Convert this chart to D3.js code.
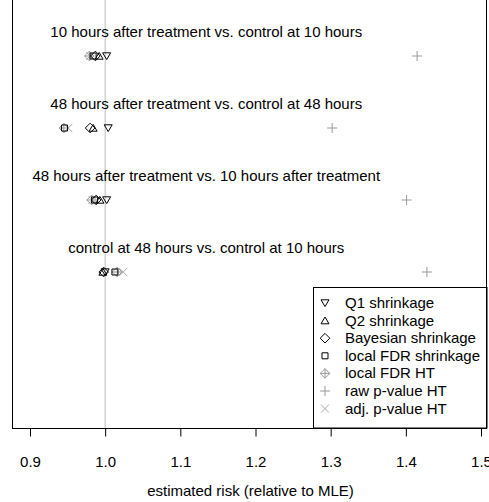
<!DOCTYPE html>
<html><head><meta charset="utf-8">
<script src="https://cdn.jsdelivr.net/npm/d3@7"></script>
<style>body{margin:0;background:#fff;}svg{display:block;font-family:"Liberation Sans",Arial,sans-serif;}</style>
</head><body>
<script>
const comparisons = [
  "10 hours after treatment vs. control at 10 hours",
  "48 hours after treatment vs. control at 48 hours",
  "48 hours after treatment vs. 10 hours after treatment",
  "control at 48 hours vs. control at 10 hours"
];
const methods = ["Q1 shrinkage","Q2 shrinkage","Bayesian shrinkage","local FDR shrinkage","local FDR HT","raw p-value HT","adj. p-value HT"];
const symbols = ["tridown","triup","diamond","square","diamondplus","plus","cross"];
const colors = ["#000","#000","#000","#000","#999","#999","#aaa"];
// risk values per method, per comparison
const q1 =      [1.002, 1.004, 1.002, 1.000];
const q2 =      [0.992, 0.984, 0.993, 0.997];
const bayes =   [0.987, 0.980, 0.988, 0.998];
const lfdrS =   [0.984, 0.946, 0.986, 1.013];
const lfdrHT =  [0.979, 0.945, 0.982, 1.016];
const rawHT =   [1.415, 1.302, 1.401, 1.428];
const adjHT =   [0.980, 0.951, 0.983, 1.024];
const series = [q1,q2,bayes,lfdrS,lfdrHT,rawHT,adjHT];
const xTicks = [0.9,1.0,1.1,1.2,1.3,1.4,1.5];

const W=489,H=502, FS=15;
const svg=d3.select("body").append("svg").attr("width",W).attr("height",H);
const x=d3.scaleLinear().domain([0.9,1.5]).range([30,481]);
const y=d3.scaleLinear().domain([0,3]).range([56,272]);
const pL=12,pR=487,pT=-2,pB=428;

function sym(g,type,cx,cy,col){
  const s=4;
  let p;
  if(type==="tridown") p=`M${cx-s},${cy-s*0.8}L${cx+s},${cy-s*0.8}L${cx},${cy+s*0.9}Z`;
  else if(type==="triup") p=`M${cx-s},${cy+s*0.8}L${cx+s},${cy+s*0.8}L${cx},${cy-s*0.9}Z`;
  else if(type==="diamond") p=`M${cx},${cy-s*1.2}L${cx+s*1.2},${cy}L${cx},${cy+s*1.2}L${cx-s*1.2},${cy}Z`;
  else if(type==="square") p=`M${cx-3},${cy-3}h6v6h-6Z`;
  else if(type==="diamondplus") p=`M${cx},${cy-s*1.2}L${cx+s*1.2},${cy}L${cx},${cy+s*1.2}L${cx-s*1.2},${cy}ZM${cx},${cy-s*1.2}V${cy+s*1.2}M${cx-s*1.2},${cy}H${cx+s*1.2}`;
  else if(type==="plus") p=`M${cx-5},${cy}H${cx+5}M${cx},${cy-5}V${cy+5}`;
  else if(type==="cross") p=`M${cx-4},${cy-4}L${cx+4},${cy+4}M${cx-4},${cy+4}L${cx+4},${cy-4}`;
  g.append("path").attr("d",p).attr("fill","none").attr("stroke",col).attr("stroke-width",1);
}

// reference line at 1.0
svg.append("line").attr("x1",x(1)).attr("x2",x(1)).attr("y1",pT).attr("y2",pB).attr("stroke","#bbb").attr("stroke-width",1);

// labels
comparisons.forEach((c,i)=>{
  svg.append("text").attr("x",x(1.1345)).attr("y",y(i)-19).attr("text-anchor","middle").attr("font-size",FS).attr("fill","#000").text(c);
});

// points: gray first then black
const order=[6,5,4,3,2,1,0];
const pts=svg.append("g");
order.forEach(m=>{
  series[m].forEach((v,i)=>sym(pts,symbols[m],x(v),y(i),colors[m]));
});

// legend
const lg=svg.append("g");
lg.append("rect").attr("x",313.5).attr("y",287.5).attr("width",pR-313.5).attr("height",pB-287.5).attr("fill","#fff").attr("stroke","#000");
methods.forEach((m,i)=>{
  const ly=303+i*17.6;
  sym(lg,symbols[i],325,ly,colors[i]);
  lg.append("text").attr("x",345).attr("y",ly+5).attr("font-size",FS).attr("fill","#000").text(m);
});

// frame
svg.append("rect").attr("x",pL+0.5).attr("y",pT+0.5).attr("width",pR-pL-1).attr("height",pB-pT).attr("fill","none").attr("stroke","#000");

// axis
const ax=svg.append("g").attr("transform",`translate(0,${pB+0.5})`)
  .call(d3.axisBottom(x).tickValues(xTicks).tickFormat(d3.format(".1f")).tickSize(8).tickSizeOuter(0));
ax.select(".domain").remove();
ax.selectAll("text").attr("font-size",FS).attr("dy",null).attr("y",38).attr("fill","#000").style("font-family","Liberation Sans, Arial, sans-serif");
ax.selectAll("line").attr("stroke","#000");

svg.append("text").attr("x",x(1.2)-5).attr("y",496).attr("text-anchor","middle").attr("font-size",FS).text("estimated risk (relative to MLE)");
</script>
</body></html>
